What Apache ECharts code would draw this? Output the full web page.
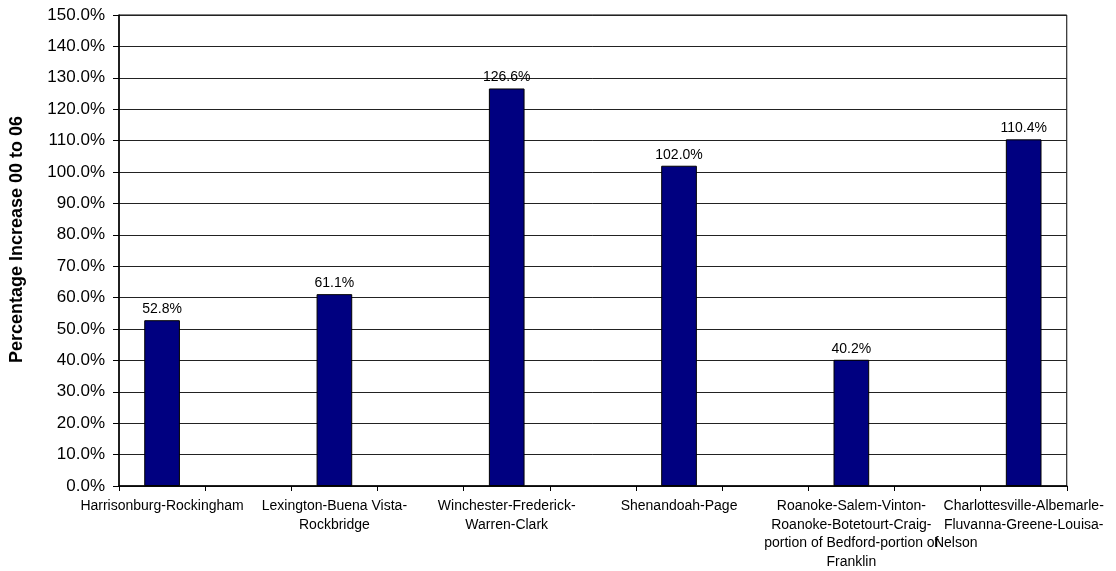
<!DOCTYPE html>
<html>
<head>
<meta charset="utf-8">
<script src="https://cdn.jsdelivr.net/npm/echarts@6/dist/echarts.min.js"></script>
<style>
html,body{margin:0;padding:0;background:#fff;}
#chart{width:1116px;height:571px;}
</style>
</head>
<body>
<div id="chart"></div>
<script>
// Category slots (empty slots between regions, as in the original chart)
const tickLabels = [
  'Harrisonburg-Rockingham',
  '',
  'Lexington-Buena Vista-\nRockbridge',
  '',
  'Winchester-Frederick-\nWarren-Clark',
  '',
  'Shenandoah-Page',
  '',
  'Roanoke-Salem-Vinton-\nRoanoke-Botetourt-Craig-\nportion of Bedford-portion of\nFranklin',
  '',
  'Charlottesville-Albemarle-\nFluvanna-Greene-Louisa-\nNelson'
];
// Percentage increase 00 to 06
const values = [52.8, null, 61.1, null, 126.6, null, 102.0, null, 40.2, null, 110.4];
const yTicks = { min: 0, max: 150, interval: 10 };
const yAxisTitle = 'Percentage Increase 00 to 06';

const FONT = '"Liberation Sans", Arial, sans-serif';
const chart = echarts.init(document.getElementById('chart'), null, {renderer: 'canvas'});
chart.setOption({
  animation: false,
  backgroundColor: '#fff',
  grid: {
    left: 116, right: 42, top: 15, bottom: 84,
    show: true, borderColor: '#000', borderWidth: 1, backgroundColor: 'transparent'
  },
  xAxis: {
    type: 'category',
    data: tickLabels,
    axisLine: { lineStyle: { color: '#000', width: 1.5 } },
    axisTick: { show: true, alignWithLabel: false, length: 5, lineStyle: { color: '#000' } },
    axisLabel: {
      interval: 0,
      margin: 11,
      color: '#000',
      fontFamily: FONT,
      fontSize: 14,
      lineHeight: 18.5,
      formatter: function (v) {
        return v.replace(/\nNelson$/, '\n{n|Nelson}');
      },
      rich: {
        n: { fontFamily: FONT, fontSize: 14, lineHeight: 18.5, color: '#000', padding: [0, 136, 0, 0] }
      }
    }
  },
  yAxis: {
    type: 'value',
    min: yTicks.min, max: yTicks.max, interval: yTicks.interval,
    name: yAxisTitle,
    nameLocation: 'middle',
    nameGap: 93,
    nameTextStyle: { fontFamily: FONT, fontSize: 18, fontWeight: 'bold', color: '#000', padding: [0, 0, 0, 22] },
    axisLine: { show: true, lineStyle: { color: '#000', width: 1.5 } },
    axisTick: { show: true, length: 6, lineStyle: { color: '#000' } },
    axisLabel: {
      margin: 14,
      color: '#000',
      fontFamily: FONT,
      fontSize: 17,
      formatter: function (v) { return v.toFixed(1) + '%'; }
    },
    splitLine: { show: true, lineStyle: { color: '#222', width: 1 } }
  },
  series: [{
    type: 'bar',
    data: values,
    barCategoryGap: '58.6%',
    itemStyle: { color: '#000080', borderColor: '#000', borderWidth: 1 },
    label: {
      show: true,
      position: 'top',
      distance: 4,
      color: '#000',
      fontFamily: FONT,
      fontSize: 14,
      formatter: function (p) { return p.value.toFixed(1) + '%'; }
    }
  }]
});
</script>
</body>
</html>
